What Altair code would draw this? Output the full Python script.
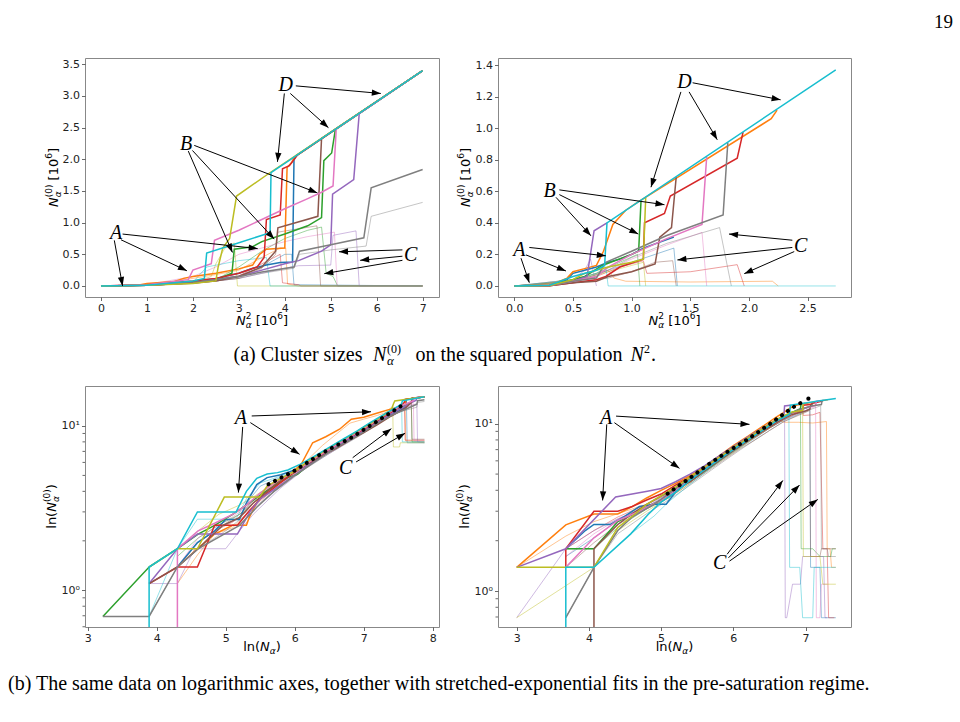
import math
import altair as alt
import pandas as pd

# matplotlib tab10 cycle
BLUE, ORANGE, GREEN, RED, PURPLE = "#1f77b4", "#ff7f0e", "#2ca02c", "#d62728", "#9467bd"
BROWN, PINK, GRAY, OLIVE, CYAN = "#8c564b", "#e377c2", "#7f7f7f", "#bcbd22", "#17becf"
COLORS = [BLUE, ORANGE, GREEN, RED, PURPLE, BROWN, PINK, GRAY, OLIVE, CYAN]

# ---------------- run set 1: N0 [1e6] vs N^2 [1e6] ----------------
# largest cluster per run
sq1_blue = [(0, 0), (0.5, 0.002), (1.0, 0.01), (1.5, 0.03), (2.0, 0.07), (2.5, 0.12), (3.0, 0.2), (3.3, 0.28), (3.6, 0.33), (3.9, 0.37), (4.17, 0.38), (4.2, 1.99), (4.25, 2.06), (7.0, 3.40)]
sq1_orange = [(0, 0), (0.8, 0.01), (1.0, 0.04), (1.6, 0.07), (1.8, 0.12), (2.0, 0.15), (2.5, 0.2), (3.0, 0.27), (3.3, 0.33), (3.45, 0.5), (3.6, 0.58), (4.0, 0.6), (4.05, 1.87), (4.15, 1.95), (4.2, 2.03), (7.0, 3.40)]
sq1_green = [(0, 0), (1.0, 0.01), (2.0, 0.06), (2.5, 0.1), (2.85, 0.2), (2.9, 0.58), (3.3, 0.62), (3.5, 0.7), (4.0, 0.82), (4.5, 0.95), (4.8, 1.08), (4.85, 1.98), (5.02, 2.1), (5.1, 2.47), (7.0, 3.40)]
sq1_red = [(0, 0), (1.0, 0.02), (2.0, 0.08), (2.5, 0.12), (3.0, 0.2), (3.4, 0.3), (3.55, 0.45), (3.6, 1.05), (3.9, 1.12), (3.95, 1.85), (4.1, 1.9), (4.28, 2.07), (7.0, 3.40)]
sq1_purple = [(0, 0), (1.0, 0.01), (2.0, 0.05), (3.0, 0.15), (3.5, 0.25), (4.0, 0.35), (4.3, 0.4), (4.8, 0.55), (5.0, 0.65), (5.04, 1.45), (5.5, 1.68), (5.62, 2.72), (7.0, 3.40)]
sq1_brown = [(0, 0), (1.0, 0.01), (2.0, 0.05), (2.5, 0.08), (3.0, 0.15), (3.5, 0.3), (3.8, 0.55), (3.85, 0.92), (4.72, 1.1), (4.8, 2.33), (7.0, 3.40)]
sq1_pink = [(0, 0), (1.0, 0.02), (1.9, 0.1), (2.0, 0.25), (2.4, 0.35), (2.47, 0.72), (3.0, 0.88), (3.5, 1.05), (4.0, 1.22), (4.5, 1.38), (4.8, 1.48), (5.05, 1.58), (5.12, 2.48), (7.0, 3.40)]
sq1_gray = [(0, 0), (1.0, 0.01), (2.0, 0.05), (3.0, 0.15), (3.5, 0.22), (4.2, 0.3), (4.32, 0.55), (5.0, 0.65), (5.72, 0.76), (5.88, 1.55), (7.0, 1.84)]
sq1_olive = [(0, 0), (1.0, 0.01), (2.0, 0.04), (2.5, 0.08), (2.55, 0.3), (2.65, 0.6), (2.8, 0.75), (2.95, 1.42), (3.66, 1.78), (7.0, 3.40)]
sq1_cyan = [(0, 0), (1.0, 0.01), (2.0, 0.08), (2.25, 0.12), (2.3, 0.52), (2.9, 0.66), (3.68, 0.84), (3.7, 1.79), (7.0, 3.40)]
# second-largest cluster per run
sq1_blue_2 = [(0, 0), (1.0, 0.01), (2.0, 0.06), (3.0, 0.16), (3.5, 0.3), (4.0, 0.5), (4.15, 0.5), (4.2, 0.02), (7.0, 0.0)]
sq1_orange_2 = [(0, 0), (1.0, 0.02), (2.0, 0.12), (2.5, 0.18), (3.0, 0.25), (3.5, 0.45), (3.9, 0.6), (4.02, 0.6), (4.06, 0.03), (4.3, 0.0), (7.0, 0.0)]
sq1_green_2 = [(0, 0), (1.0, 0.01), (2.0, 0.05), (2.5, 0.1), (3.0, 0.3), (3.5, 0.55), (4.0, 0.75), (4.5, 0.88), (4.8, 0.93), (4.9, 0.2), (5.05, 0.15), (5.15, 0.0), (7.0, 0.0)]
sq1_red_2 = [(0, 0), (1.0, 0.01), (2.0, 0.06), (3.0, 0.16), (3.5, 0.35), (3.9, 0.5), (3.95, 0.05), (4.3, 0.02), (4.35, 0.0), (7.0, 0.0)]
sq1_purple_2 = [(0, 0), (1.0, 0.01), (2.0, 0.04), (3.0, 0.12), (3.5, 0.2), (4.0, 0.28), (4.3, 0.32), (5.0, 0.33), (5.05, 0.8), (5.55, 0.87), (5.62, 0.0), (7.0, 0.0)]
sq1_brown_2 = [(0, 0), (1.0, 0.01), (2.0, 0.04), (3.0, 0.12), (3.5, 0.28), (3.8, 0.5), (3.85, 0.85), (4.7, 0.95), (4.78, 0.0), (7.0, 0.0)]
sq1_pink_2 = [(0, 0), (1.0, 0.02), (2.0, 0.15), (2.5, 0.3), (3.0, 0.5), (3.5, 0.6), (4.0, 0.7), (4.5, 0.78), (5.08, 0.85), (5.14, 0.0), (7.0, 0.0)]
sq1_gray_2 = [(0, 0), (1.0, 0.01), (2.0, 0.04), (3.0, 0.12), (3.5, 0.2), (4.2, 0.28), (4.32, 0.5), (5.0, 0.57), (5.77, 0.63), (5.88, 1.1), (7.0, 1.32)]
sq1_olive_2 = [(0, 0), (1.0, 0.01), (2.0, 0.05), (2.4, 0.15), (2.5, 0.35), (2.7, 0.6), (2.9, 0.68), (2.97, 0.0), (7.0, 0.0)]
sq1_cyan_2 = [(0, 0), (1.0, 0.01), (2.0, 0.06), (2.3, 0.3), (3.0, 0.4), (3.6, 0.45), (3.68, 0.0), (7.0, 0.0)]

# ---------------- run set 2: N0 [1e6] vs N^2 [1e6] ----------------
sq2_blue = [(0, 0), (0.3, 0.003), (0.45, 0.04), (0.5, 0.08), (0.6, 0.1), (0.7, 0.12), (0.8, 0.15), (0.9, 0.17), (1.0, 0.2), (1.1, 0.24), (1.36, 0.31)]
sq2_orange = [(0, 0), (0.3, 0.004), (0.45, 0.05), (0.5, 0.09), (0.6, 0.11), (0.7, 0.13), (0.76, 0.22), (0.84, 0.39), (0.95, 0.48), (1.05, 0.53), (2.19, 1.06), (2.24, 1.115)]
sq2_green = [(0, 0), (0.3, 0.003), (0.45, 0.03), (0.6, 0.06), (0.75, 0.13), (1.0, 0.2), (1.06, 0.22), (1.08, 0.54)]
sq2_red = [(0, 0), (0.3, 0.002), (0.5, 0.02), (0.7, 0.04), (0.78, 0.06), (0.9, 0.12), (1.1, 0.17), (1.11, 0.4), (1.28, 0.46), (1.33, 0.57), (1.9, 0.81), (1.95, 0.975)]
sq2_purple = [(0, 0), (0.3, 0.003), (0.5, 0.03), (0.62, 0.06), (0.68, 0.35), (0.79, 0.40)]
sq2_brown = [(0, 0), (0.3, 0.002), (0.5, 0.02), (0.7, 0.03), (0.8, 0.06), (1.0, 0.09), (1.2, 0.14), (1.24, 0.31), (1.34, 0.37), (1.38, 0.69)]
sq2_pink = [(0, 0), (0.3, 0.003), (0.5, 0.03), (0.7, 0.06), (0.8, 0.12), (1.0, 0.2), (1.3, 0.3), (1.6, 0.39), (1.64, 0.82)]
sq2_gray = [(0, 0), (0.3, 0.003), (0.5, 0.03), (0.7, 0.05), (0.78, 0.15), (1.0, 0.22), (1.3, 0.32), (1.78, 0.45), (1.82, 0.91)]
sq2_olive = [(0, 0), (0.3, 0.003), (0.5, 0.04), (0.6, 0.08), (0.8, 0.12), (1.0, 0.15), (1.1, 0.17), (1.12, 0.56)]
sq2_cyan = [(0, 0), (0.3, 0.004), (0.5, 0.06), (0.7, 0.1), (0.77, 0.13), (0.79, 0.40), (2.74, 1.37)]
sq2_blue_2 = [(0, 0), (0.5, 0.03), (0.7, 0.07), (0.8, 0.1), (1.0, 0.15), (1.2, 0.2), (1.36, 0.24), (1.39, 0.0)]
sq2_orange_2 = [(0, 0), (0.5, 0.04), (0.7, 0.08), (0.8, 0.1), (0.85, 0.05), (0.95, 0.03), (1.5, 0.025), (2.2, 0.03), (2.25, 0.0)]
sq2_green_2 = [(0, 0), (0.5, 0.03), (0.7, 0.08), (0.9, 0.15), (1.05, 0.2), (1.07, 0.0)]
sq2_red_2 = [(0, 0), (0.5, 0.03), (0.7, 0.06), (0.9, 0.12), (1.1, 0.16), (1.13, 0.08), (1.5, 0.09), (1.9, 0.135), (1.96, 0.0)]
sq2_purple_2 = [(0, 0), (0.5, 0.04), (0.6, 0.1), (0.65, 0.17), (0.7, 0.0)]
sq2_brown_2 = [(0, 0), (0.5, 0.02), (0.8, 0.05), (1.0, 0.09), (1.1, 0.12), (1.2, 0.15), (1.35, 0.16), (1.38, 0.0)]
sq2_pink_2 = [(0, 0), (0.5, 0.02), (0.8, 0.1), (1.0, 0.17), (1.3, 0.26), (1.6, 0.34), (1.64, 0.0)]
sq2_gray_2 = [(0, 0), (0.5, 0.02), (0.8, 0.1), (1.0, 0.18), (1.3, 0.27), (1.75, 0.37), (1.85, 0.0)]
sq2_olive_2 = [(0, 0), (0.5, 0.03), (0.8, 0.09), (1.0, 0.13), (1.1, 0.15), (1.12, 0.0)]
sq2_cyan_2 = [(0, 0), (0.5, 0.04), (0.7, 0.08), (0.78, 0.12), (0.8, 0.0), (2.74, 0.0)]

# ---------------- run set 1: ln(N0) vs ln(N) ----------------
ln1_blue = [(4.30, 1.386), (4.59, 1.95), (4.84, 2.30), (5.00, 2.70), (5.20, 2.70), (5.30, 3.40), (5.45, 4.40), (5.60, 4.85), (5.80, 5.05), (6.00, 5.40), (6.20, 6.00), (6.40, 6.70), (6.60, 7.50), (6.80, 8.40), (7.00, 9.40), (7.20, 10.60), (7.40, 11.80), (7.60, 12.85), (7.62, 14.50), (7.88, 15.07)]
ln1_orange = [(4.30, 1.386), (4.59, 1.79), (4.84, 2.20), (5.10, 2.485), (5.30, 2.485), (5.34, 2.77), (5.50, 3.75), (5.70, 4.30), (5.90, 4.90), (6.10, 5.90), (6.26, 7.90), (6.45, 8.60), (6.65, 9.55), (6.82, 10.98), (7.00, 11.30), (7.20, 12.00), (7.40, 12.70), (7.60, 13.30), (7.61, 14.50), (7.88, 15.07)]
ln1_green = [(3.22, 0.693), (3.89, 1.386), (4.30, 1.79), (4.60, 2.20), (4.84, 2.48), (5.10, 2.90), (5.30, 3.30), (5.50, 3.80), (5.70, 4.30), (5.90, 4.85), (6.04, 5.08), (6.20, 5.80), (6.40, 6.70), (6.60, 7.70), (6.80, 8.60), (7.00, 9.80), (7.20, 11.00), (7.40, 12.30), (7.60, 13.40), (7.69, 13.90), (7.70, 14.70), (7.88, 15.07)]
ln1_red = [(3.89, 1.099), (4.30, 1.386), (4.59, 1.386), (4.84, 2.485), (5.17, 2.485), (5.30, 2.90), (5.50, 3.60), (5.70, 4.20), (5.90, 4.90), (6.10, 5.60), (6.30, 6.30), (6.50, 7.10), (6.70, 7.90), (6.90, 8.90), (7.10, 10.00), (7.30, 11.30), (7.50, 12.90), (7.59, 13.93), (7.60, 14.50), (7.88, 15.07)]
ln1_purple = [(3.89, 1.099), (4.30, 1.79), (4.59, 2.197), (5.17, 2.197), (5.35, 3.00), (5.50, 3.60), (5.70, 4.10), (5.90, 4.70), (6.10, 5.40), (6.30, 6.20), (6.50, 7.00), (6.70, 7.90), (6.90, 8.80), (7.10, 9.90), (7.30, 11.20), (7.50, 12.50), (7.70, 13.90), (7.76, 14.33), (7.77, 14.90), (7.88, 15.07)]
ln1_brown = [(3.89, 1.099), (4.30, 1.386), (4.60, 1.79), (4.96, 2.485), (5.20, 2.77), (5.40, 3.40), (5.60, 4.00), (5.80, 4.70), (6.00, 5.30), (6.20, 5.90), (6.40, 6.60), (6.60, 7.30), (6.80, 8.20), (7.00, 9.10), (7.20, 10.20), (7.40, 11.50), (7.60, 12.80), (7.69, 13.90), (7.70, 14.70), (7.88, 15.07)]
ln1_pink = [(4.30, 0.01), (4.30, 1.79), (4.60, 2.30), (4.84, 2.56), (5.10, 2.90), (5.30, 3.30), (5.50, 3.90), (5.70, 4.50), (5.90, 5.00), (6.10, 5.60), (6.30, 6.40), (6.50, 7.20), (6.70, 8.10), (6.90, 9.10), (7.10, 10.30), (7.30, 11.70), (7.50, 13.00), (7.72, 14.25), (7.73, 14.80), (7.88, 15.07)]
ln1_gray = [(3.22, 0.693), (3.89, 0.693), (4.30, 1.386), (4.60, 1.79), (5.20, 2.485), (5.45, 3.20), (5.70, 4.00), (6.00, 5.00), (6.20, 5.70), (6.40, 6.50), (6.60, 7.40), (6.80, 8.20), (7.00, 9.20), (7.20, 10.40), (7.40, 11.60), (7.60, 12.60), (7.77, 13.54), (7.78, 14.25), (7.88, 14.43)]
ln1_olive = [(3.89, 1.386), (4.30, 1.79), (4.59, 1.79), (4.98, 3.69), (5.49, 3.69), (5.60, 4.30), (5.80, 4.80), (6.00, 5.30), (6.20, 6.10), (6.40, 6.90), (6.60, 7.80), (6.80, 8.70), (7.00, 9.80), (7.20, 11.00), (7.40, 12.50), (7.43, 13.59), (7.45, 14.20), (7.88, 15.07)]
ln1_cyan = [(3.89, 0.01), (3.89, 1.386), (4.30, 1.79), (4.59, 2.996), (5.15, 2.996), (5.30, 4.00), (5.45, 4.80), (5.60, 5.10), (5.75, 5.20), (5.90, 5.40), (6.10, 5.90), (6.30, 6.60), (6.50, 7.40), (6.70, 8.30), (6.90, 9.30), (7.10, 10.50), (7.30, 11.80), (7.50, 13.20), (7.55, 13.64), (7.56, 14.22), (7.88, 15.07)]
ln1_blue_2 = [(4.30, 1.386), (4.60, 1.79), (4.90, 2.40), (5.20, 2.77), (5.35, 3.60), (5.50, 4.30), (5.70, 4.70), (5.90, 5.00), (6.10, 5.50), (6.30, 6.20), (6.50, 6.90), (6.70, 7.70), (6.90, 8.60), (7.10, 9.70), (7.30, 11.00), (7.50, 12.30), (7.62, 13.10), (7.63, 7.90), (7.88, 7.90)]
ln1_orange_2 = [(4.30, 1.099), (4.60, 1.66), (4.84, 2.20), (5.10, 2.40), (5.40, 3.20), (5.60, 4.00), (5.80, 4.60), (6.00, 5.30), (6.20, 6.30), (6.40, 7.60), (6.60, 8.90), (6.80, 10.40), (7.00, 11.00), (7.20, 11.60), (7.40, 12.40), (7.60, 13.30), (7.61, 8.10), (7.88, 8.10)]
ln1_green_2 = [(4.30, 1.609), (4.60, 2.08), (4.90, 2.50), (5.20, 2.90), (5.40, 3.40), (5.60, 3.95), (5.80, 4.60), (6.00, 5.20), (6.20, 5.90), (6.40, 6.60), (6.60, 7.50), (6.80, 8.40), (7.00, 9.50), (7.20, 10.70), (7.40, 12.00), (7.60, 13.20), (7.69, 13.74), (7.70, 8.00), (7.88, 8.00)]
ln1_red_2 = [(4.30, 1.386), (4.60, 1.79), (4.84, 2.30), (5.10, 2.60), (5.30, 3.00), (5.50, 3.50), (5.70, 4.10), (5.90, 4.80), (6.10, 5.50), (6.30, 6.20), (6.50, 6.90), (6.70, 7.70), (6.90, 8.70), (7.10, 9.80), (7.30, 11.10), (7.50, 12.50), (7.59, 13.10), (7.60, 8.20), (7.88, 8.20)]
ln1_purple_2 = [(3.89, 1.099), (4.30, 1.099), (4.55, 1.79), (5.00, 1.79), (5.20, 2.30), (5.40, 2.90), (5.60, 3.50), (5.80, 4.20), (6.00, 4.90), (6.20, 5.70), (6.40, 6.40), (6.60, 7.20), (6.80, 8.10), (7.00, 9.10), (7.20, 10.30), (7.40, 11.60), (7.60, 12.90), (7.77, 13.68), (7.78, 8.00), (7.88, 7.90)]
ln1_brown_2 = [(4.30, 1.386), (4.60, 1.946), (4.90, 2.40), (5.20, 2.90), (5.40, 3.50), (5.60, 4.10), (5.80, 4.80), (6.00, 5.40), (6.20, 6.00), (6.40, 6.70), (6.60, 7.40), (6.80, 8.30), (7.00, 9.20), (7.20, 10.30), (7.40, 11.70), (7.60, 13.00), (7.69, 13.76), (7.70, 8.30), (7.88, 8.30)]
ln1_pink_2 = [(4.30, 1.386), (4.60, 2.08), (4.84, 2.40), (5.10, 2.80), (5.30, 3.20), (5.50, 3.80), (5.70, 4.40), (5.90, 4.90), (6.10, 5.50), (6.30, 6.30), (6.50, 7.10), (6.70, 8.00), (6.90, 9.00), (7.10, 10.10), (7.30, 11.40), (7.50, 12.70), (7.72, 13.65), (7.73, 8.10), (7.88, 8.10)]
ln1_gray_2 = [(3.89, 0.693), (4.30, 1.386), (4.60, 1.79), (5.00, 2.30), (5.30, 2.90), (5.60, 3.70), (5.90, 4.60), (6.10, 5.30), (6.30, 6.00), (6.50, 6.80), (6.70, 7.60), (6.90, 8.50), (7.10, 9.60), (7.30, 10.90), (7.50, 12.10), (7.77, 13.00), (7.78, 13.90), (7.88, 14.09)]
ln1_olive_2 = [(3.89, 1.386), (4.30, 1.79), (4.60, 2.30), (4.90, 2.90), (5.20, 3.30), (5.40, 3.70), (5.60, 4.20), (5.80, 4.70), (6.00, 5.20), (6.20, 5.90), (6.40, 6.60), (6.60, 7.50), (6.80, 8.40), (7.00, 9.50), (7.20, 10.80), (7.42, 13.20), (7.43, 7.45), (7.52, 7.45), (7.53, 7.90), (7.88, 7.90)]
ln1_cyan_2 = [(3.89, 0.693), (4.30, 1.79), (4.59, 2.708), (5.15, 2.708), (5.30, 3.60), (5.50, 4.50), (5.70, 4.80), (5.90, 5.10), (6.10, 5.60), (6.30, 6.30), (6.50, 7.00), (6.70, 7.80), (6.90, 8.80), (7.10, 9.90), (7.30, 11.20), (7.50, 12.50), (7.55, 13.00), (7.56, 8.00), (7.88, 8.00)]
# stretched-exponential fit
ln1_fit = [(5.62, 4.42), (5.99, 5.32), (6.41, 6.88), (6.82, 8.49), (7.20, 10.72), (7.54, 13.20)]

# ---------------- run set 2: ln(N0) vs ln(N) ----------------
ln2_blue = [(3.68, 1.79), (3.95, 2.30), (4.07, 2.50), (4.30, 2.50), (4.50, 2.80), (4.70, 3.20), (4.90, 3.30), (5.07, 3.30), (5.20, 3.90), (5.40, 4.60), (5.60, 5.30), (5.80, 6.20), (6.00, 7.10), (6.20, 8.00), (6.40, 9.20), (6.60, 10.50), (6.80, 11.60), (7.05, 12.64)]
ln2_orange = [(3.00, 1.386), (3.68, 2.485), (4.07, 2.89), (4.40, 2.89), (4.60, 3.20), (4.80, 3.60), (5.00, 4.00), (5.20, 4.40), (5.40, 4.90), (5.60, 5.50), (5.80, 6.40), (6.00, 7.40), (6.20, 8.40), (6.40, 9.60), (6.60, 11.00), (6.70, 11.70), (6.80, 12.50), (6.90, 13.00), (7.30, 13.88), (7.31, 13.93)]
ln2_green = [(3.68, 1.79), (4.07, 1.79), (4.40, 2.60), (4.70, 3.00), (5.00, 3.50), (5.20, 4.00), (5.40, 4.70), (5.60, 5.40), (5.80, 6.20), (6.00, 7.00), (6.20, 8.00), (6.40, 9.20), (6.60, 10.50), (6.80, 11.60), (6.93, 12.30), (6.94, 13.20)]
ln2_red = [(3.68, 1.386), (3.68, 1.79), (4.07, 2.996), (4.40, 2.996), (4.60, 3.20), (4.80, 3.50), (5.00, 3.80), (5.20, 4.30), (5.40, 4.80), (5.60, 5.40), (5.80, 6.10), (6.00, 7.00), (6.20, 8.00), (6.40, 9.00), (6.60, 10.20), (6.80, 11.50), (6.96, 12.04), (6.97, 12.90), (7.07, 13.04), (7.10, 13.26), (7.22, 13.60), (7.24, 13.79)]
ln2_purple = [(3.00, 1.386), (3.68, 1.79), (4.37, 3.65), (4.81, 3.95), (5.00, 4.10), (5.20, 4.50), (5.40, 5.00), (5.60, 5.60), (5.80, 6.40), (6.00, 7.30), (6.20, 8.30), (6.40, 9.40), (6.60, 10.60), (6.70, 11.00), (6.71, 12.77), (6.79, 12.90)]
ln2_brown = [(4.07, 0.01), (4.07, 1.79), (4.40, 2.50), (4.60, 2.90), (4.80, 3.30), (5.00, 3.70), (5.20, 4.10), (5.40, 4.50), (5.60, 5.20), (5.80, 6.00), (6.00, 6.90), (6.20, 7.90), (6.40, 9.00), (6.60, 10.20), (6.80, 11.30), (7.00, 11.90), (7.06, 12.20), (7.07, 12.82), (7.10, 13.20)]
ln2_pink = [(3.68, 1.386), (4.07, 2.08), (4.40, 2.64), (4.70, 3.00), (5.00, 3.50), (5.20, 4.00), (5.40, 4.70), (5.60, 5.40), (5.80, 6.20), (6.00, 7.10), (6.20, 8.10), (6.40, 9.20), (6.60, 10.40), (6.80, 11.50), (7.00, 12.40), (7.14, 12.87), (7.15, 13.62), (7.20, 13.70)]
ln2_gray = [(3.68, 0.693), (4.07, 1.386), (4.40, 2.30), (4.60, 2.77), (4.90, 3.30), (5.10, 3.80), (5.30, 4.40), (5.50, 5.00), (5.70, 5.70), (5.90, 6.60), (6.10, 7.50), (6.30, 8.60), (6.50, 9.80), (6.70, 11.00), (6.90, 12.10), (7.10, 12.80), (7.22, 13.02), (7.23, 13.72), (7.25, 13.80)]
ln2_olive = [(3.00, 1.386), (4.07, 1.386), (4.40, 2.40), (4.60, 2.80), (4.80, 3.30), (5.00, 3.70), (5.20, 4.20), (5.40, 4.80), (5.60, 5.50), (5.80, 6.30), (6.00, 7.20), (6.20, 8.20), (6.40, 9.30), (6.60, 10.60), (6.80, 11.70), (6.96, 12.00), (6.97, 13.20), (7.00, 13.30)]
ln2_cyan = [(3.68, 0.01), (3.68, 1.386), (4.07, 1.386), (4.58, 2.197), (4.82, 2.87), (5.00, 3.40), (5.20, 3.90), (5.40, 4.60), (5.60, 5.30), (5.80, 6.10), (6.00, 7.00), (6.20, 8.00), (6.40, 9.10), (6.60, 10.40), (6.78, 11.40), (6.79, 12.90), (7.00, 13.30), (7.20, 13.72), (7.42, 14.13)]
ln2_blue_2 = [(3.68, 1.609), (4.07, 2.08), (4.40, 2.64), (4.80, 3.20), (5.10, 3.70), (5.30, 4.20), (5.50, 4.80), (5.70, 5.50), (5.90, 6.30), (6.10, 7.20), (6.30, 8.20), (6.50, 9.40), (6.70, 10.50), (6.90, 11.40), (7.06, 12.30), (7.07, 1.386), (7.20, 1.386), (7.22, 0.693), (7.42, 0.693)]
ln2_orange_2 = [(3.00, 1.386), (3.68, 2.13), (4.07, 2.60), (4.40, 2.90), (4.80, 3.30), (5.10, 3.90), (5.30, 4.40), (5.50, 5.00), (5.70, 5.80), (5.90, 6.70), (6.10, 7.70), (6.30, 8.80), (6.50, 9.80), (6.65, 10.50), (6.70, 10.20), (6.90, 10.20), (7.10, 10.10), (7.29, 10.30), (7.30, 1.79), (7.34, 1.79), (7.36, 1.386), (7.42, 1.386)]
ln2_green_2 = [(3.68, 1.79), (4.07, 1.79), (4.40, 2.40), (4.80, 3.10), (5.10, 3.60), (5.30, 4.20), (5.50, 4.80), (5.70, 5.50), (5.90, 6.40), (6.10, 7.30), (6.30, 8.30), (6.50, 9.40), (6.70, 10.60), (6.93, 11.80), (6.94, 1.79), (7.10, 1.79), (7.20, 1.609), (7.35, 1.609), (7.37, 1.79), (7.42, 1.79)]
ln2_red_2 = [(3.68, 1.79), (4.07, 2.30), (4.40, 2.77), (4.80, 3.30), (5.10, 3.80), (5.30, 4.30), (5.50, 4.90), (5.70, 5.60), (5.90, 6.40), (6.10, 7.30), (6.30, 8.30), (6.50, 9.40), (6.70, 10.60), (6.90, 11.60), (6.96, 12.00), (6.97, 11.20), (7.10, 11.30), (7.20, 11.70), (7.24, 1.79), (7.30, 1.79), (7.32, 0.693), (7.40, 0.693)]
ln2_purple_2 = [(3.00, 0.693), (3.68, 1.79), (4.07, 2.30), (4.40, 2.70), (4.80, 3.20), (5.00, 3.60), (5.20, 4.10), (5.40, 4.70), (5.60, 5.30), (5.80, 6.10), (6.00, 7.00), (6.20, 8.00), (6.40, 9.00), (6.60, 10.20), (6.71, 10.90), (6.72, 0.693), (6.74, 0.693), (6.82, 1.099), (6.93, 1.099), (6.96, 1.609), (7.25, 1.609), (7.27, 0.693), (7.30, 0.693)]
ln2_brown_2 = [(3.68, 1.386), (4.07, 1.946), (4.40, 2.50), (4.80, 3.10), (5.10, 3.60), (5.30, 4.10), (5.50, 4.70), (5.70, 5.40), (5.90, 6.20), (6.10, 7.10), (6.30, 8.00), (6.50, 9.10), (6.70, 10.30), (6.90, 11.20), (7.06, 12.00), (7.07, 1.609), (7.20, 1.609), (7.22, 1.79), (7.42, 1.79)]
ln2_pink_2 = [(3.68, 1.609), (4.07, 2.20), (4.40, 2.70), (4.80, 3.20), (5.10, 3.70), (5.30, 4.20), (5.50, 4.80), (5.70, 5.60), (5.90, 6.40), (6.10, 7.30), (6.30, 8.30), (6.50, 9.50), (6.70, 10.70), (6.90, 11.50), (7.14, 12.70), (7.15, 0.693), (7.20, 0.693), (7.22, 1.099), (7.30, 1.099)]
ln2_gray_2 = [(3.68, 0.693), (4.07, 1.386), (4.40, 2.20), (4.80, 2.90), (5.10, 3.50), (5.30, 4.00), (5.50, 4.60), (5.70, 5.30), (5.90, 6.10), (6.10, 7.00), (6.30, 8.00), (6.50, 9.10), (6.70, 10.30), (6.90, 11.30), (7.10, 12.30), (7.21, 12.80), (7.22, 1.79), (7.30, 1.79), (7.32, 1.609), (7.42, 1.609)]
ln2_olive_2 = [(3.00, 0.693), (4.07, 1.386), (4.40, 2.30), (4.80, 3.00), (5.10, 3.60), (5.30, 4.10), (5.50, 4.80), (5.70, 5.50), (5.90, 6.30), (6.10, 7.20), (6.30, 8.30), (6.50, 9.50), (6.70, 10.80), (6.90, 11.70), (6.96, 11.90), (6.97, 1.609), (7.20, 1.609), (7.24, 1.099), (7.42, 1.099)]
ln2_cyan_2 = [(3.68, 1.386), (4.07, 1.386), (4.58, 2.197), (4.90, 2.80), (5.10, 3.40), (5.30, 4.00), (5.50, 4.70), (5.70, 5.50), (5.90, 6.40), (6.10, 7.30), (6.30, 8.40), (6.50, 9.60), (6.70, 10.90), (6.77, 11.60), (6.78, 1.386), (6.92, 1.386), (6.96, 0.693), (7.10, 0.693), (7.12, 1.386), (7.42, 1.386)]
ln2_fit = [(5.09, 3.82), (5.39, 4.71), (5.69, 5.85), (5.90, 6.71), (6.22, 8.18), (6.52, 10.06), (6.82, 12.47), (6.94, 13.35)]
ln2_fit_extra = [(7.04, 14.1)]

# ---------------- annotations: (x_start, y_start, x_tip, y_tip) ----------------
sq1_arrows = [(4.24, 3.16, 6.09, 3.04), (3.99, 3.04, 3.84, 1.96), (4.12, 3.04, 4.95, 2.50),
              (2.03, 2.22, 4.71, 1.47), (1.90, 2.13, 2.86, 0.53), (1.99, 2.14, 3.77, 0.74),
              (0.47, 0.82, 3.41, 0.59), (0.435, 0.73, 1.87, 0.24), (0.29, 0.72, 0.47, 0.0),
              (6.56, 0.57, 5.18, 0.54), (6.56, 0.47, 5.64, 0.405), (6.56, 0.405, 4.86, 0.195)]
sq1_letters = [("A", 0.33, 0.83), ("B", 1.85, 2.24), ("C", 6.74, 0.49), ("D", 4.02, 3.18)]
sq2_arrows = [(1.52, 1.288, 2.27, 1.18), (1.42, 1.23, 1.165, 0.626), (1.49, 1.23, 1.73, 0.927),
              (0.384, 0.609, 1.28, 0.515), (0.355, 0.562, 0.653, 0.318), (0.384, 0.579, 1.057, 0.329),
              (0.128, 0.244, 0.78, 0.191), (0.099, 0.197, 0.44, 0.095), (0.057, 0.176, 0.128, 0.021),
              (2.37, 0.29, 1.83, 0.329), (2.37, 0.244, 1.39, 0.165), (2.386, 0.218, 1.96, 0.078)]
sq2_letters = [("A", 0.043, 0.229), ("B", 0.30, 0.605), ("C", 2.44, 0.255), ("D", 1.45, 1.294)]
ln1_arrows = [(5.377, 11.5, 7.106, 12.2), (5.357, 10.48, 6.07, 6.72), (5.246, 9.86, 5.184, 3.93),
              (6.84, 6.41, 7.40, 9.63), (6.89, 6.04, 7.60, 9.03)]
ln1_letters = [("A", 5.22, 11.2), ("C", 6.74, 5.53)]
ln2_arrows = [(4.376, 11.1, 6.224, 9.91), (4.353, 10.14, 5.254, 5.41), (4.247, 9.91, 4.19, 3.48),
              (5.915, 1.66, 6.686, 4.58), (5.933, 1.58, 6.917, 4.30), (5.947, 1.51, 7.17, 3.53)]
ln2_letters = [("A", 4.238, 10.86), ("C", 5.81, 1.476)]

# ---------------- axes ----------------
sq1_xticks = [0, 1, 2, 3, 4, 5, 6, 7]
sq1_yticks = [0.0, 0.5, 1.0, 1.5, 2.0, 2.5, 3.0, 3.5]
sq2_xticks = [0.0, 0.5, 1.0, 1.5, 2.0, 2.5]
sq2_yticks = [0.0, 0.2, 0.4, 0.6, 0.8, 1.0, 1.2, 1.4]
ln1_xticks = [3, 4, 5, 6, 7, 8]
ln2_xticks = [3, 4, 5, 6, 7]
log_ticks = [1, 10]
log_minor = [0.6, 0.7, 0.8, 0.9, 2, 3, 4, 5, 6, 7, 8, 9]

P_SQ1 = dict(W=354, H=239, xdom=[-0.348, 7.356], ydom=[-0.174, 3.60], log=False, xt=sq1_xticks, yt=sq1_yticks, xf="d", yf=".1f")
P_SQ2 = dict(W=353, H=239, xdom=[-0.139, 2.870], ydom=[-0.070, 1.445], log=False, xt=sq2_xticks, yt=sq2_yticks, xf=".1f", yf=".1f")
P_LN1 = dict(W=354, H=241, xdom=[2.961, 8.091], ydom=[0.598, 17.5], log=True, xt=ln1_xticks, yt=log_ticks, xf="d", yf="")
P_LN2 = dict(W=353, H=241, xdom=[2.741, 7.630], ydom=[0.61, 16.8], log=True, xt=ln2_xticks, yt=log_ticks, xf="d", yf="")

ONE_ROW = pd.DataFrame({"k": [0]})
HEAD = "M0,0L-0.7,2L0.7,2Z"


def series_frame(groups):
    rows = []
    for k, (col, pts) in enumerate(groups):
        for i, (x, y) in enumerate(pts):
            rows.append({"x": x, "y": y, "s": k, "c": col, "i": i})
    return pd.DataFrame(rows)


def to_px(P, x, y):
    x0, x1 = P["xdom"]
    y0, y1 = P["ydom"]
    px = (x - x0) / (x1 - x0) * P["W"]
    if P["log"]:
        fy = (math.log10(y) - math.log10(y0)) / (math.log10(y1) - math.log10(y0))
    else:
        fy = (y - y0) / (y1 - y0)
    return px, P["H"] * (1 - fy)


def arrow_frame(P, arrows):
    rows = []
    for xa, ya, xb, yb in arrows:
        ax, ay = to_px(P, xa, ya)
        bx, by = to_px(P, xb, yb)
        ang = math.degrees(math.atan2(bx - ax, -(by - ay))) % 360
        rows.append({"x": xa, "y": ya, "x2": xb, "y2": yb, "ang": ang})
    return pd.DataFrame(rows)


def text_layer(t, x, y, size, italic=False, angle=0, font="DejaVu Sans", align="left"):
    kw = dict(text=t, fontSize=size, font=font, align=align, baseline="alphabetic", color="black")
    if italic:
        kw["fontStyle"] = "italic"
    if angle:
        kw["angle"] = angle
    return alt.Chart(ONE_ROW).mark_text(**kw).encode(x=alt.value(x), y=alt.value(y))


EM = {"N": 0.748, "α": 0.66, "(": 0.39, ")": 0.39, "[": 0.39, "]": 0.39, " ": 0.318, "l": 0.278, "n": 0.634}


def em_width(t):
    return sum(EM.get(ch, 0.636) for ch in t)


def math_title(pieces, cx, cy, vertical):
    """Lay out a small math label piece by piece; a lone space only advances."""
    placed, pos, held = [], 0.0, None
    for t, size, italic, rise, adv in pieces:
        w = em_width(t) * size
        if t.strip():
            placed.append((t, size, italic, rise, pos))
        if not adv:
            held = w
        else:
            pos += max(w, held) if held is not None else w
            held = None
    total = pos
    out = []
    for t, size, italic, rise, p in placed:
        if vertical:
            out.append(text_layer(t, cx - rise, cy + total / 2 - p, size, italic, 270))
        else:
            out.append(text_layer(t, cx - total / 2 + p, cy - rise, size, italic))
    return out


T = 13
S = 9
SQ_X = [("N", T, True, 0, True), ("α", S, True, -3, False), ("2", S, False, 6, True), (" ", T, False, 0, True),
        ("[10", T, False, 0, True), ("6", S, False, 6, True), ("]", T, False, 0, True)]
SQ_Y = [("N", T, True, 0, True), ("α", S, True, -3, False), ("(0)", S, False, 6, True), (" ", T, False, 0, True),
        ("[10", T, False, 0, True), ("6", S, False, 6, True), ("]", T, False, 0, True)]
LN_X = [("ln(", T, False, 0, True), ("N", T, True, 0, True), ("α", S, True, -3, True), (")", T, False, 0, True)]
LN_Y = [("ln(", T, False, 0, True), ("N", T, True, 0, True), ("α", S, True, -3, False),
        ("(0)", S, False, 6, True), (")", T, False, 0, True)]


def panel(P, big, second, arrows, letters, xt_pieces, yt_pieces, xt_off, yt_off,
          fit=None, fit_extra=None, extra=()):
    xs = alt.Scale(domain=P["xdom"], nice=False, zero=False)
    if P["log"]:
        ys = alt.Scale(type="log", domain=P["ydom"], nice=False)
        yax = alt.Axis(values=P["yt"], title=None, labelExpr="datum.value == 1 ? '10⁰' : '10¹'")
    else:
        ys = alt.Scale(domain=P["ydom"], nice=False, zero=False)
        yax = alt.Axis(values=P["yt"], title=None, format=P["yf"])
    xax = alt.Axis(values=P["xt"], title=None, format=P["xf"])

    def X(f):
        return alt.X(f, type="quantitative", scale=xs, axis=xax)

    def Y(f):
        return alt.Y(f, type="quantitative", scale=ys, axis=yax)

    layers = []
    layers.append(alt.Chart(series_frame(second)).mark_line(strokeWidth=0.9, opacity=0.5, clip=True).encode(
        x=X("x"), y=Y("y"), color=alt.Color("c:N", scale=None), detail="s:N", order="i:Q"))
    layers.append(alt.Chart(series_frame(big)).mark_line(strokeWidth=1.5, clip=True).encode(
        x=X("x"), y=Y("y"), color=alt.Color("c:N", scale=None), detail="s:N", order="i:Q"))
    if fit is not None:
        fdf = pd.DataFrame(fit, columns=["x", "y"])
        layers.append(alt.Chart(fdf).mark_line(color="black", strokeWidth=4, strokeDash=[0.1, 7.2],
                                              strokeCap="round", clip=True).encode(x=X("x"), y=Y("y")))
    if fit_extra is not None:
        edf = pd.DataFrame(fit_extra, columns=["x", "y"])
        layers.append(alt.Chart(edf).mark_point(filled=True, color="black", size=18, opacity=1).encode(
            x=X("x"), y=Y("y")))
    adf = arrow_frame(P, arrows)
    layers.append(alt.Chart(adf).mark_rule(color="black", strokeWidth=1).encode(
        x=X("x"), y=Y("y"), x2="x2:Q", y2="y2:Q"))
    layers.append(alt.Chart(adf).mark_point(shape=HEAD, filled=True, color="black", size=81,
                                            opacity=1, strokeWidth=0).encode(
        x=X("x2"), y=Y("y2"), angle=alt.Angle("ang:Q", scale=None)))
    ldf = pd.DataFrame(letters, columns=["t", "x", "y"])
    layers.append(alt.Chart(ldf).mark_text(font="Liberation Serif", fontStyle="italic", fontSize=20,
                                           color="black", baseline="middle", align="center").encode(
        x=X("x"), y=Y("y"), text="t:N"))
    if P["log"]:
        mdf = pd.DataFrame({"v": [v for v in log_minor if P["ydom"][0] <= v <= P["ydom"][1]]})
        layers.append(alt.Chart(mdf).mark_rule(color="#444", strokeWidth=0.8).encode(
            y=Y("v"), x=alt.value(0), x2=alt.value(-2.5)))
    layers += math_title(xt_pieces, P["W"] / 2, P["H"] + xt_off, False)
    layers += math_title(yt_pieces, yt_off, P["H"] / 2, True)
    layers += list(extra)
    return alt.layer(*layers).properties(width=P["W"], height=P["H"])


big1 = list(zip(COLORS, [sq1_blue, sq1_orange, sq1_green, sq1_red, sq1_purple, sq1_brown, sq1_pink, sq1_gray, sq1_olive, sq1_cyan]))
sec1 = list(zip(COLORS, [sq1_blue_2, sq1_orange_2, sq1_green_2, sq1_red_2, sq1_purple_2, sq1_brown_2, sq1_pink_2, sq1_gray_2, sq1_olive_2, sq1_cyan_2]))
big2 = list(zip(COLORS, [sq2_blue, sq2_orange, sq2_green, sq2_red, sq2_purple, sq2_brown, sq2_pink, sq2_gray, sq2_olive, sq2_cyan]))
sec2 = list(zip(COLORS, [sq2_blue_2, sq2_orange_2, sq2_green_2, sq2_red_2, sq2_purple_2, sq2_brown_2, sq2_pink_2, sq2_gray_2, sq2_olive_2, sq2_cyan_2]))
big3 = list(zip(COLORS, [ln1_blue, ln1_orange, ln1_green, ln1_red, ln1_purple, ln1_brown, ln1_pink, ln1_gray, ln1_olive, ln1_cyan]))
sec3 = list(zip(COLORS, [ln1_blue_2, ln1_orange_2, ln1_green_2, ln1_red_2, ln1_purple_2, ln1_brown_2, ln1_pink_2, ln1_gray_2, ln1_olive_2, ln1_cyan_2]))
big4 = list(zip(COLORS, [ln2_blue, ln2_orange, ln2_green, ln2_red, ln2_purple, ln2_brown, ln2_pink, ln2_gray, ln2_olive, ln2_cyan]))
sec4 = list(zip(COLORS, [ln2_blue_2, ln2_orange_2, ln2_green_2, ln2_red_2, ln2_purple_2, ln2_brown_2, ln2_pink_2, ln2_gray_2, ln2_olive_2, ln2_cyan_2]))

CAP = "Liberation Serif"
CS = 20
# page origin marker (keeps the page's top-left corner fixed) and caption (a)
page_corner = alt.Chart(ONE_ROW).mark_rule(strokeOpacity=0, strokeWidth=0).encode(
    x=alt.value(-84), y=alt.value(-57), x2=alt.value(-84), y2=alt.value(-57))
cap_a = [
    page_corner,
    text_layer("(a) Cluster sizes", 213, 303, CS, font=CAP, align="center"),
    text_layer("N", 288, 303, CS, italic=True, font=CAP),
    text_layer("α", 302, 307, 13, italic=True, font=CAP),
    text_layer("(0)", 302, 295, 12, font=CAP),
    text_layer("on the squared population", 434, 303, CS, font=CAP, align="center"),
    text_layer("N", 545.5, 303, CS, italic=True, font=CAP),
    text_layer("2", 559, 295, 12, font=CAP),
    text_layer(".", 566, 303, CS, font=CAP),
]
page_no = [text_layer("19", 455, -30, 19, font=CAP, align="right")]
cap_b = [text_layer("(b) The same data on logarithmic axes, together with stretched-exponential fits in the pre-saturation regime.",
                    -77, 304, CS, font=CAP)]

top_left = panel(P_SQ1, big1, sec1, sq1_arrows, sq1_letters, SQ_X, SQ_Y, 28, -27, extra=cap_a)
top_right = panel(P_SQ2, big2, sec2, sq2_arrows, sq2_letters, SQ_X, SQ_Y, 28, -28, extra=page_no)
bottom_left = panel(P_LN1, big3, sec3, ln1_arrows, ln1_letters, LN_X, LN_Y, 24, -29, fit=ln1_fit, extra=cap_b)
bottom_right = panel(P_LN2, big4, sec4, ln2_arrows, ln2_letters, LN_X, LN_Y, 24, -29, fit=ln2_fit, fit_extra=ln2_fit_extra)

chart = alt.concat(top_left, top_right, bottom_left, bottom_right, columns=2,
                   spacing={"row": 89, "column": 59}, bounds="flush").properties(
    padding={"left": 0, "top": 0, "right": 0, "bottom": 0},
    autosize=alt.AutoSizeParams(type="pad"),
).configure(background="white").configure_view(
    stroke="#888", strokeWidth=1
).configure_axis(
    grid=False, domain=False, labelFont="DejaVu Sans", labelFontSize=11, labelColor="#222",
    tickColor="#444", tickSize=3.5, tickWidth=0.8, labelPadding=2
)

chart.save("out.html", embed_options={"renderer": "svg", "actions": False})
